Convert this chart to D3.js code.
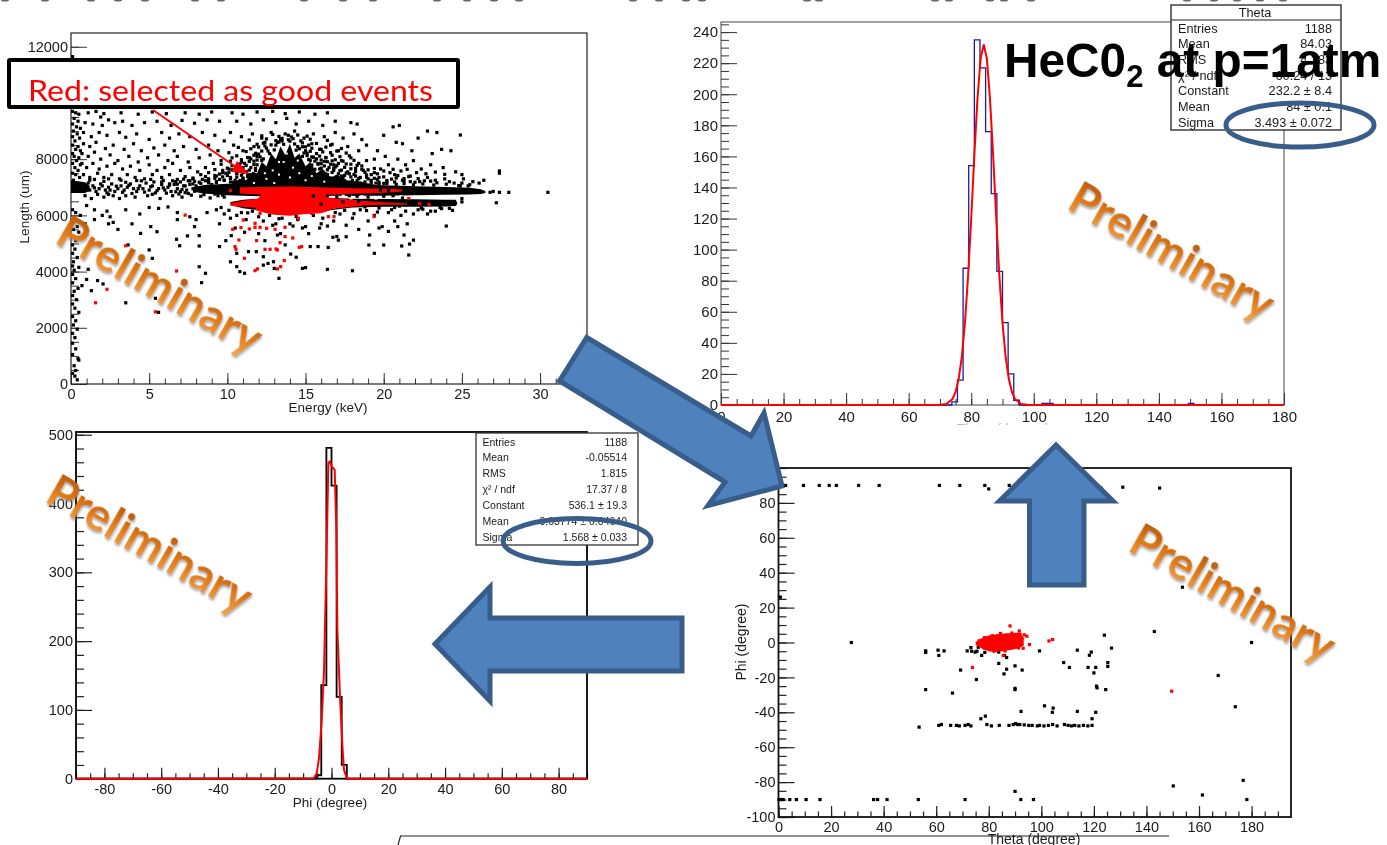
<!DOCTYPE html>
<html>
<head>
<meta charset="utf-8">
<script src="https://cdn.jsdelivr.net/npm/d3@7"></script>
<style>
    html, body { margin: 0; padding: 0; background: #fff; overflow: hidden; }
    svg { display: block; filter: blur(0.35px); }
    text { font-family: "Liberation Sans", Arial, sans-serif; fill: #1a1a1a; }
</style>
</head>
<body>
<svg id="slide" width="1387" height="845"></svg>
<script>
// ---- tick labels
const energyTicks = [0, 5, 10, 15, 20, 25, 30];
const lengthTicks = [0, 2000, 4000, 6000, 8000, 12000];
const thetaTicks = [0, 20, 40, 60, 80, 100, 120, 140, 160, 180];
const thetaCountTicks = [0, 20, 40, 60, 80, 100, 120, 140, 160, 180, 200, 220, 240];
const phiTicks = [-80, -60, -40, -20, 0, 20, 40, 60, 80];
const phiCountTicks = [0, 100, 200, 300, 400, 500];
const phiScatterTicks = [-100, -80, -60, -40, -20, 0, 20, 40, 60, 80];

// ---- Theta histogram (bin edges / entries) and fit
const thetaEdges = [0, 73.8, 75.6, 77.4, 79.2, 81, 82.8, 84.6, 86.4, 88.2, 90, 91.8, 93.6, 95.4, 102.6, 104.4, 106.2, 149.4, 151.2, 180];
const thetaCounts = [0, 2, 16, 88, 154, 235, 217, 176, 136, 86, 53, 20, 3, 0, 1, 1, 0, 1, 0, 0];
const thetaFitX = [0, 68, 70, 72, 74, 75, 76, 77, 78, 79, 80, 81, 82, 83, 84, 85, 86, 87, 88, 89, 90, 91, 92, 93, 94, 96, 98, 100, 180];
const thetaFitY = [0, 0, 0.1, 0.6, 3.8, 8.4, 17, 31, 53, 83, 120, 161, 197, 223, 232, 223, 197, 161, 120, 83, 53, 31, 17, 8.4, 3.8, 0.6, 0.1, 0, 0];

// ---- Phi histogram and fit
const phiEdges = [-90, -5.4, -3.6, -1.8, 0, 1.8, 3.6, 5.4, 90];
const phiCounts = [0, 5, 136, 481, 426, 119, 20, 0, 0];
const phiFitX = [-90, -6.2, -5.2, -4.4, -3.45, -2.63, -1.8, -1.1, -0.63, 0.3, 1.13, 1.7, 2.07, 3, 3.84, 4.4, 5.35, 6.2, 90];
const phiFitY = [0, 0.5, 8, 30, 85, 158, 313, 459, 461, 453, 449, 362, 216, 119, 47, 13, 1.5, 0, 0];

// ---- Length vs energy: dense bands (energy, upper, lower)
const cloudE = [10.2, 10.8, 11.2, 11.6, 11.9, 12.2, 12.5, 12.8, 13.1, 13.4, 13.7, 14, 14.3, 14.6, 15, 15.3, 15.7, 16.1, 16.6, 17, 17.6, 18.4, 19.4];
const cloudTop = [7100, 7300, 7250, 7550, 7500, 7900, 7750, 8200, 8000, 8450, 8150, 8550, 8050, 8200, 7750, 7900, 7500, 7650, 7350, 7450, 7250, 7200, 7100];
const cloudBottom = [6850, 6850, 6850, 6850, 6850, 6850, 6850, 6850, 6850, 6850, 6850, 6850, 6850, 6850, 6850, 6850, 6850, 6850, 6850, 6850, 6850, 6850, 6850];
const bandE = [7.8, 8.5, 10, 12, 14, 17, 20, 22, 24, 25.5, 26.2, 26.5];
const bandTop = [7000, 7080, 7130, 7150, 7150, 7120, 7070, 7040, 7010, 6980, 6930, 6870];
const bandBottom = [6840, 6780, 6720, 6680, 6680, 6700, 6700, 6720, 6730, 6740, 6760, 6800];
const band2E = [10.2, 11, 13, 16, 18, 20, 22, 24, 24.6, 24.7];
const band2Top = [6480, 6560, 6620, 6640, 6590, 6580, 6570, 6560, 6560, 6450];
const band2Bottom = [6370, 6250, 6120, 6150, 6280, 6310, 6310, 6320, 6330, 6400];
const edgeE = [0, 0.9, 1.2];
const edgeTop = [7250, 7180, 7050];
const edgeBottom = [6800, 6800, 6880];
const redUpE = [10.8, 12, 14, 16, 18, 19.5, 20.5, 21.2];
const redUpTop = [7000, 7010, 7030, 7000, 6970, 6960, 6950, 6910];
const redUpBottom = [6780, 6740, 6720, 6720, 6770, 6790, 6820, 6850];
const redLowE = [10.2, 11, 12, 14, 16, 18, 19, 20, 21.5];
const redLowTop = [6440, 6520, 6600, 6680, 6650, 6560, 6500, 6470, 6420];
const redLowBottom = [6340, 6300, 6260, 6180, 6180, 6310, 6360, 6380, 6380];
const redBlobE = [11.8, 12.5, 13, 14, 15, 16, 16.6];
const redBlobTop = [6500, 6950, 7000, 7020, 7000, 6900, 6500];
const redBlobBottom = [6180, 6080, 6020, 5990, 6050, 6080, 6180];

// ---- Length vs energy: individual events [energy, length]
const edgeEvents = [[.1,11650],[.15,11400],[.1,9700],[.3,9650],[.5,9600],[.2,9450],[.45,9350],[.1,9250],[.35,9150],[.6,9100],[.15,9000],[.4,8900],[.1,8800],[.55,8750],[.25,8650],[.1,8500],[.45,8450],[.3,8350],[.6,8300],[.1,8200],[.2,8100],[.5,8050],[.35,7950],[.1,7850],[.6,7800],[.25,7700],[.45,7600],[.1,7500],[.3,7450],[.55,7350],[.15,7250],[.1,6200],[.3,6100],[.6,6000],[.2,5900],[.1,5750],[.4,5600],[.15,5500],[.5,5400],[.1,5250],[.3,5100],[.1,4950],[.25,4800],[.1,4650],[.4,4500],[.15,4350],[.1,4200],[.5,4150],[.2,4050],[.1,3900],[.3,3750],[.1,3600],[.45,3400],[.2,3300],[.1,3150],[.35,3000],[.1,2850],[.25,2700],[.5,2550],[.1,2400],[.3,2250],[.15,2100],[.4,1950],[.1,1800],[.25,1650],[.1,1450],[.3,1250],[.1,1050],[.45,900],[.5,850],[.2,650],[.3,480],[.1,380],[.25,280],[.4,150]];
const upperLeftEvents = [[1.1,9650],[1.6,9700],[1.9,9500],[2.1,9620],[2.4,9400],[3.2,9650],[4.3,9600],[5.2,9680],[6.1,9620],[7.3,9650],[8.2,9600],[9,9680],[.9,9300],[1.4,9250],[2,9200],[2.8,9300],[3.3,9350],[3.9,9200],[4.7,9300],[5.5,9350],[6.4,9200],[7.1,9380],[7.9,9280],[8.7,9400],[9.5,9350],[.8,8950],[1.3,8800],[1.8,8950],[2.3,8850],[3.1,8950],[3.5,8780],[4.2,8900],[5,8700],[5.8,8950],[6.3,8750],[6.9,8900],[7.6,8800],[8.4,8950],[9.2,8850],[9.8,8650],[.8,8550],[1.2,8450],[1.6,8600],[2.2,8380],[2.7,8500],[3.4,8350],[4,8550],[4.5,8300],[5.3,8400],[6,8500],[6.6,8300],[7.2,8450],[8,8350],[8.8,8500],[9.4,8300],[.7,8200],[1.1,8100],[1.5,8250],[1.9,8000],[2.5,8150],[3,7950],[3.7,8100],[4.3,7900],[4.9,8050],[5.6,8150],[6.2,7950],[6.8,8100],[7.5,7900],[8.2,8050],[8.9,8150],[9.6,7950],[.7,7850],[1,7700],[1.4,7850],[1.8,7650],[2.3,7750],[2.8,7850],[3.3,7650],[3.8,7750],[4.4,7600],[5,7800],[5.5,7600],[6,7700],[6.5,7850],[7,7600],[7.6,7700],[8.1,7550],[8.6,7700],[9.1,7850],[9.7,7600],[.8,7450],[1.2,7350],[1.7,7500],[2.1,7350],[2.6,7450],[3.1,7300],[3.6,7450],[4.1,7350],[4.7,7300],[5.2,7450],[5.8,7350],[6.3,7450],[6.8,7280],[7.3,7380],[7.8,7300],[8.3,7450],[8.8,7300],[9.3,7400],[9.8,7250],[10.2,7350],[9.9,7500]];
const upperMidEvents = [[10.3,9650],[11,9600],[11.9,9680],[12.9,9700],[13.7,9620],[14.6,9680],[15.6,9600],[16.4,9650],[10.6,9350],[11.5,9250],[12.3,9400],[13.1,9300],[13.8,9450],[14.4,9250],[15.2,9350],[16.1,9200],[16.9,9350],[17.9,9300],[18.3,9250],[10.2,8950],[10.9,8800],[11.6,8900],[12.2,8750],[12.8,8950],[13.4,8700],[13.9,8850],[14.3,9000],[14.9,8750],[15.5,8900],[16.2,8800],[16.9,8950],[17.4,8750],[18.1,8900],[18.6,8700],[10.4,8500],[11,8300],[11.7,8450],[12.4,8600],[12.7,8200],[13.1,8500],[13.5,8650],[14.5,8450],[15,8300],[15.4,8550],[16,8350],[16.6,8500],[17.1,8300],[17.7,8450],[18.4,8300],[18.9,8500],[10.3,8050],[10.9,7900],[11.4,8050],[11.9,7800],[12.2,7950],[14.8,8100],[15.3,7950],[15.8,7850],[16.3,8050],[16.8,7800],[17.3,7950],[17.9,8050],[18.4,7850],[18.9,7950],[10.1,7650],[10.6,7500],[11,7700],[11.4,7450],[11.8,7600],[15.9,7650],[16.4,7450],[16.8,7600],[17.3,7400],[17.7,7550],[18.2,7400],[18.7,7600],[19.2,7450],[10.5,7250],[11,7300],[17.5,7200],[18,7250],[18.5,7150],[19,7300],[19.5,7150]];
const cloudEvents = [[12.2,8830],[12.9,8880],[13.3,8810],[13.7,8900],[14.1,8790],[14.5,8860],[15.1,8820],[11.4,8680],[12.5,8720],[13.1,8660],[13.5,8740],[13.9,8690],[14.2,8730],[14.7,8650],[15.3,8710],[16.4,8670],[11.9,8530],[12.3,8570],[12.8,8510],[13.2,8600],[14.3,8540],[14.8,8580],[15.2,8500],[15.7,8560],[16.7,8530],[10.7,8420],[11.5,8370],[12,8430],[12.5,8390],[14.6,8370],[15,8440],[15.4,8390],[15.9,8350],[16.3,8430],[17.3,8380],[10.1,8230],[11.2,8270],[11.8,8210],[12.2,8290],[14.9,8220],[15.3,8280],[15.7,8200],[16.1,8260],[16.6,8230],[17,8290],[17.6,8220],[10.6,8120],[11.3,8060],[11.7,8140],[12.1,8080],[15.1,8130],[15.5,8070],[15.9,8110],[16.3,8060],[16.7,8140],[17.2,8090],[17.8,8120],[10.2,7930],[10.9,7980],[11.4,7920],[11.9,7970],[15.2,7990],[15.6,7930],[16,7970],[16.4,7910],[16.9,7980],[17.4,7930],[18.1,7960],[9.6,7820],[10.3,7770],[10.8,7830],[11.2,7780],[11.7,7810],[15.4,7790],[15.8,7820],[16.2,7760],[16.6,7820],[17,7770],[17.6,7830],[18.3,7780],[9.2,7630],[10,7680],[10.5,7620],[10.9,7660],[11.4,7610],[11.8,7670],[15.6,7640],[16,7680],[16.4,7620],[16.8,7670],[17.3,7610],[17.9,7660],[18.6,7640],[19.4,7670],[8.8,7520],[9.5,7470],[10.1,7530],[10.6,7480],[11,7520],[11.3,7460],[16,7510],[16.3,7470],[16.7,7530],[17.1,7480],[17.6,7510],[18.1,7460],[18.8,7530],[19.6,7480],[20.4,7520],[7.8,7330],[8.6,7380],[9.2,7320],[9.7,7370],[10.2,7310],[10.6,7360],[11,7330],[11.3,7380],[16.6,7330],[17,7380],[17.4,7320],[17.9,7370],[18.4,7310],[18.9,7360],[19.4,7320],[20,7370],[20.8,7330],[21.6,7380],[7,7190],[7.5,7230],[8.2,7180],[8.8,7240],[9.3,7200],[9.8,7250],[10.2,7190],[17.5,7230],[17.9,7180],[18.3,7240],[18.8,7190],[19.2,7230],[19.7,7180],[20.2,7240],[20.7,7190],[21.3,7230],[22,7180],[23,7220],[6.3,7080],[6.8,7110],[7.3,7050],[7.8,7120],[8.3,7140],[8.8,7160],[9.3,7170],[18.2,7150],[18.7,7120],[19.2,7160],[19.7,7110],[20.2,7140],[20.8,7100],[21.3,7130],[21.9,7090],[22.5,7120],[23.2,7080],[24,7110],[24.8,7060],[25.5,7090]];
const denseExtraEvents = [[9,7100],[9.5,7280],[10,7420],[10.4,7180],[10.9,7430],[11.2,7560],[11.5,7700],[11.7,7930],[12,8180],[12.3,8010],[12.6,8290],[12.4,8470],[13,8330],[13.3,8610],[13.6,8530],[14,8640],[14.4,8320],[14.8,8440],[15.1,8210],[15.4,8080],[15.7,8010],[16,7840],[16.2,7920],[16.5,7700],[16.9,7720],[17.2,7590],[17.5,7420],[17.8,7480],[18.2,7560],[18.5,7350],[18.9,7440],[19.2,7250],[19.6,7280],[20,7140],[20.5,7290],[20.9,7420],[21.3,7310],[21.7,7200],[22.2,7310],[22.6,7230],[23.4,7160],[24.2,7200],[25,7150],[8.6,7230],[9.2,7420],[9.7,7520],[10.3,7620],[10.7,7720],[11.1,7850],[11.5,8010],[11.9,8100],[16.7,7940],[17.1,7850],[17.5,7710],[17.9,7820],[18.2,7670],[18.6,7760],[19,7620],[19.4,7520],[20,7580],[20.6,7640],[21.1,7580],[21.5,7640],[22.1,7520],[22.7,7480],[23.3,7540],[23.9,7460],[7.2,7290],[7.9,7210],[8.4,7280],[5.8,7190],[6.5,7230],[5.1,7280],[4.2,7240],[3.2,7250],[2.4,7300],[1.5,7280],[20.4,6450],[21,6330],[21.6,6480],[22.6,6440],[23.4,6460],[16.5,6750],[17.3,6740],[18.1,6760],[19.6,6780],[20.5,6800],[21.4,6780]];
const upperRightEvents = [[19.6,8300],[20,8850],[20.6,9150],[21,9200],[22.8,9000],[23.4,8950],[24.9,8860],[19.4,8000],[20.1,8100],[20.8,8600],[21.2,8550],[21.8,8300],[22.2,8750],[23.1,8200],[23.7,8350],[24.3,8300],[19.8,7650],[20.3,7800],[20.9,8000],[21.4,7800],[21.9,7950],[22.4,7650],[23,7800],[23.8,7700],[24.6,7550],[25,7450],[19.7,7350],[20.2,7200],[20.7,7450],[21.2,7250],[21.7,7400],[22.3,7200],[22.8,7350],[23.3,7250],[23.9,7300],[24.5,7150],[25.1,7300],[25.7,7200],[26.1,7150],[26.4,7250],[24.9,7050],[25.4,7050],[26.8,6820],[27,6850],[27.4,6820],[28,6820],[30.5,6820],[27.4,7500],[27.4,7580],[27.2,6450],[25,6600],[25,6480]];
const leftBandEvents = [[1,7000],[1.2,6900],[1.4,7050],[1.6,6850],[1.8,6950],[2,7050],[2.2,6900],[2.4,7000],[2.6,7120],[2.8,6850],[3,6950],[3.2,7050],[3.4,6900],[3.6,7000],[3.8,7120],[4,6950],[4.2,6850],[4.4,7050],[4.6,6950],[4.8,7150],[5,6900],[5.2,7050],[5.4,6800],[5.6,6950],[5.8,7100],[6,6900],[6.2,7000],[6.4,6850],[6.6,7100],[6.8,6950],[7,6850],[7.2,7050],[7.4,6900],[7.6,7100],[7.8,6950],[8,7050],[.9,6700],[1.3,6600],[1.7,6750],[2.1,6650],[2.7,6700],[3.1,6600],[3.5,6700],[4.1,6650],[4.9,6700],[5.7,6600],[6.5,6700],[7.1,6650],[7.7,6720],[8.3,6680],[8.9,6620],[9.4,6700],[9.8,6650],[1.1,7150],[1.5,6980],[1.9,7120],[2.3,6800],[2.5,6900],[2.9,7040],[3.3,6820],[3.7,7070],[4.3,6950],[4.7,6830],[5.1,7020],[5.5,6880],[5.9,6980],[6.3,7120],[6.7,6840],[7.1,6920],[7.5,6780],[7.9,6860],[1.2,7250],[2.1,7210],[3.5,7180],[4.5,7230],[5.3,7190],[5.9,7240],[6.7,7200],[7.6,7230],[2.4,6750],[3.9,6780],[5.2,6750],[6.1,6790],[6.9,6760],[7.3,6810],[8.5,6740],[9.2,6760],[9.7,6720]];
const belowEvents = [[1,6350],[1.5,6200],[2,6000],[2.3,6150],[2.5,5950],[2.7,5750],[3.5,6200],[4.4,6050],[5,6280],[5.6,6250],[6.2,6300],[6.8,6100],[7.6,5950],[8,5850],[8.7,6100],[9.3,6200],[9.8,6050],[.9,5700],[1.5,5850],[2.4,5700],[3,5500],[3.9,5700],[5.1,5600],[6.8,5850],[7.9,5600],[9.5,5700],[10.2,5900],[10.9,6100],[11.2,5850],[11.6,6150],[12.3,5800],[12.7,6000],[13.1,5700],[13.5,5900],[14,5700],[14.5,5850],[15,5600],[15.5,6000],[16,5700],[16.8,5800],[17.2,6050],[17.6,5650],[18,5900],[18.5,6200],[19,5800],[19.4,6000],[19.9,5600],[20.3,6100],[20.7,5800],[21.1,6000],[21.5,5700],[22.2,6200],[22.8,6050],[23.3,6150],[24,5620],[24.2,6250],[10.5,5550],[11.1,5400],[12,5350],[12.9,5650],[13.4,5350],[14.2,5620],[14.8,5550],[15.2,5350],[15.9,5550],[16.4,5620],[17,5250],[17.6,5240],[18.4,5500],[19.1,5300],[19.7,5550],[20.3,5430],[20.9,5600],[21.3,5300],[1.3,3320],[2.05,3560],[1.7,3680],[1,3720],[.7,3500],[1.1,4080],[1.8,4290],[3.5,2890],[5.6,2550],[5.4,3050],[5.2,4470],[5,4770],[3.65,4950],[4.45,5360],[5.5,5420],[6.75,5150],[6.95,4920],[7.45,5270],[8.2,5280],[8.2,4910],[9.5,4890],[9.9,5100],[10.25,5280],[8.2,4175],[8.6,3940],[8.35,3605],[10.2,4350],[10.6,4175],[10.8,4000],[11.1,3940],[10.6,4650],[11.35,4710],[11.85,4710],[12.3,4530],[12.6,4290],[12.3,4230],[12.95,4350],[13,4115],[13.3,3760],[14.05,4625],[14.4,4510],[14.8,4115],[15,4140],[15.3,4890],[15.8,4890],[16.45,4860],[16.4,4080],[18,4030],[19.4,4650],[19.05,4945],[20,4945],[21.15,4910],[21.6,4590],[21.9,5120],[21.65,4980],[17.1,5120],[16.75,5220],[12.4,5100],[13.7,4950],[13.2,5300],[9.6,6280],[10.1,6180],[10.6,6000],[11.3,6090],[12,5950],[13.3,5880],[14.4,5960],[16.1,5900],[16.9,6100],[17.5,6180],[18.1,6060],[18.9,6170],[19.6,6120],[20.5,6200],[21.4,6150],[21.9,6050],[22.5,6220],[23,6150],[23.7,6240],[24.4,6180]];
const redEvents = [[10.34,5505],[10.87,5564],[11.41,5517],[11.77,5576],[12.09,5576],[12.51,5540],[13.05,5505],[13.69,5576],[11.02,5837],[11.77,5718],[12.09,6074],[10.49,4888],[10.55,4793],[10.74,5125],[11.87,5102],[12.41,4793],[12.73,4793],[13.11,4805],[13.2,4770],[13.37,5030],[14.18,5197],[13.69,5244],[14.6,4865],[14.75,4888],[11.09,4473],[11.77,4034],[11.92,4094],[13.2,4094],[13.41,4177],[13.64,4390],[16.46,5956],[16.82,5956],[19.38,5956],[15.39,6074],[14.54,5896],[7.3,6010],[3.5,4920],[6.75,4020],[2.3,3370],[1.57,2890],[5.4,2570],[10.2,6880],[21.6,6600],[22.3,6420],[22.9,6390]];
const cloudSpeckles = [[12.5,7300],[12.9,7600],[13.3,7450],[13.6,7900],[14,7350],[14.2,7700],[14.6,7500],[15,7250],[15.4,7400],[13,7150],[11.7,7150],[16.2,7200],[13.8,8200],[13.3,7900],[14.5,7950],[12.4,7500]];
const bandSpeckles = [[12.3,6650],[13,6680],[13.9,6620],[14.6,6700],[15.4,6650],[16.2,6600],[12.6,6350],[13.4,6200],[15.2,6220],[16.8,6300],[17.4,6680],[18.6,6660],[19.5,6620],[17.9,6620],[20.3,6640],[21.1,6660],[22,6650],[23,6640],[24,6660]];
const bandDarks = [[15.5,6690],[16.4,6700],[17,6650],[17.8,6700],[18.3,6680],[19,6650],[20,6680],[20.6,6700],[21.2,6620],[16,6400],[17.4,6480],[18.8,6300],[19.7,6260],[20.7,6280],[22.4,6260],[23.6,6280],[19.8,6900],[20.3,6880],[18.4,6490]];

// ---- Phi vs theta: events [theta, phi]
const scatterBlack = [[2.7,90],[9.5,90],[15.5,90],[19.3,90],[22,90],[30.5,90],[38.3,90],[61.2,90],[69,90],[78.5,90],[80,88],[87.8,90],[122.7,88.5],[131,89],[145,88.5],[.7,26],[27.7,0],[153.7,31.7],[143,6.3],[124,4.2],[180,0],[126.7,-3.2],[113.7,-4.4],[119,-5.5],[118.3,-7.3],[99.3,-4.8],[56,-4.8],[56,-5.7],[60.7,-4.4],[61,-7.4],[63,-4.8],[71.8,-4.8],[73.2,-2.9],[73.5,-5],[74.8,-5.5],[75.5,-5],[76,-2.7],[77.3,-7.4],[78.5,-5.7],[83.8,-5.5],[86,-7.4],[86.8,-8.6],[83.8,-12],[90,-13.4],[86.8,-15.3],[85.8,-18],[92.7,-15.8],[69.3,-15.8],[75.3,-21.2],[108.5,-11.5],[110.7,-14.3],[117.8,-14.3],[120.7,-14.3],[120,-17.4],[125.3,-11.5],[125.3,-13.7],[121,-25],[121.2,-26],[124.5,-27],[90,-26.3],[90,-27],[56,-27],[66.2,-29],[167.3,-18.9],[173.8,-36.8],[101.2,-36.3],[104.5,-37.6],[104.2,-40],[92.3,-39.5],[113.7,-39.5],[120.7,-40],[119.3,-43.7],[78.7,-42.2],[77,-43.7],[53.5,-48.5],[61,-47.5],[62,-47],[65.5,-47.5],[67.7,-47.5],[68.8,-47.8],[71,-47.5],[72.2,-47],[73.2,-47.8],[79.3,-47],[81,-47.8],[84,-47.5],[87.7,-47.5],[89.3,-47],[90.2,-46.5],[91,-47],[91.8,-47],[93.5,-47.2],[95.2,-47.5],[96.5,-47.5],[98.5,-47.8],[99.3,-47.5],[101,-47.8],[102.7,-47.5],[104.3,-47],[106,-47.8],[108.8,-47],[110.2,-47.5],[111.5,-47.8],[112.7,-47.5],[114.3,-47.8],[116,-47.5],[117.7,-47.8],[119.3,-47.5],[.2,-90],[1,-90],[1.8,-90],[4.3,-90],[6.8,-90],[10.5,-90],[15.8,-90],[36.2,-90],[37.7,-90],[41.3,-90],[53.2,-90],[71,-90],[92.2,-90],[97,-90],[178.2,-90],[90,-85.3],[150.2,-82.2],[161.3,-87.4],[176.8,-79]];
const scatterRed = [[88.1,9.5],[91.6,6.6],[93.5,4.4],[94.5,3.6],[95.5,-1.2],[93.1,-3.3],[91.3,-3.1],[102.9,.9],[104.3,1.7],[85.5,-7.5],[73.8,-14.3],[149.6,-27.9],[76.4,1],[78.4,2.8],[81.3,3.9],[84.5,5.2],[88.8,5.4],[86.2,-4.8],[82,-5],[78.6,-3.2],[91.9,4.6]];
const blobTheta = [75.1, 77.9, 80.4, 83, 86.8, 89.3, 91.8, 93.3];
const blobTop = [-0.2, 2.3, 3.6, 4.2, 4.8, 4.9, 5.1, 1.7];
const blobBottom = [-0.6, -3.4, -4.6, -4.8, -4, -3.4, -2.5, -1];

// ---- annotation text
const thetaStatNames = ["Entries", "Mean", "RMS", "χ² / ndf", "Constant", "Mean", "Sigma"];
const thetaStatValues = ["1188", "84.03", "4.283", "60.24 / 13", "232.2 ± 8.4", "84 ± 0.1", "3.493 ± 0.072"];
const phiStatNames = ["Entries", "Mean", "RMS", "χ² / ndf", "Constant", "Mean", "Sigma"];
const phiStatValues = ["1188", "-0.05514", "1.815", "17.37 / 8", "536.1 ± 19.3", "-0.03774 ± 0.04640", "1.568 ± 0.033"];
const clippedTitleX = [5, 45, 91, 118, 145, 195, 221, 304, 343, 373, 437, 467, 494, 519, 633, 659, 686, 702, 807, 819, 935, 949, 990, 1004, 1031, 1187, 1214, 1237, 1260, 1283];

const svg = d3.select("#slide");

const defs = svg.append("defs");
const grad = defs.append("linearGradient").attr("id", "orange").attr("x1", 0).attr("y1", 0).attr("x2", 0).attr("y2", 1);
grad.append("stop").attr("offset", "15%").attr("stop-color", "#B9590A");
grad.append("stop").attr("offset", "55%").attr("stop-color", "#E07A14");
grad.append("stop").attr("offset", "90%").attr("stop-color", "#F0A04A");
const shadow = defs.append("filter").attr("id", "shade").attr("x", "-10%").attr("y", "-20%").attr("width", "120%").attr("height", "140%");
shadow.append("feDropShadow").attr("dx", 1.5).attr("dy", 2).attr("stdDeviation", 1).attr("flood-color", "#777").attr("flood-opacity", 0.6);

// frame with ROOT style inward ticks
const drawFrame = (c) => {
    const x = d3.scaleLinear().domain(c.xDomain).range([c.left, c.right]);
    const y = d3.scaleLinear().domain(c.yDomain).range([c.bottom, c.top]);
    const g = svg.append("g");

    const axisStyle = (sel) => {
        sel.select(".domain").remove();
        sel.selectAll("line").attr("stroke", c.tickColor).attr("stroke-width", c.tickWidth);
        sel.selectAll("text").attr("font-size", c.fontSize).attr("fill", "#1a1a1a").attr("font-family", "Liberation Sans");
    };

    g.append("g").attr("transform", `translate(0,${c.bottom})`)
        .call(d3.axisBottom(x).tickValues(c.xMinor).tickFormat("").tickSize(-c.xLen / 2)).call(axisStyle);
    g.append("g").attr("transform", `translate(0,${c.bottom})`)
        .call(d3.axisBottom(x).tickValues(c.xTicks).tickFormat(String).tickSize(-c.xLen).tickPadding(c.xPad)).call(axisStyle);
    g.append("g").attr("transform", `translate(${c.left},0)`)
        .call(d3.axisLeft(y).tickValues(c.yMinor).tickFormat("").tickSize(-c.yLen / 2)).call(axisStyle);
    g.append("g").attr("transform", `translate(${c.left},0)`)
        .call(d3.axisLeft(y).tickValues(c.yTicks).tickFormat(String).tickSize(-c.yLen).tickPadding(3)).call(axisStyle);

    g.append("rect").attr("x", c.left).attr("y", c.top).attr("width", c.right - c.left).attr("height", c.bottom - c.top)
        .attr("fill", "none").attr("stroke", c.frameColor).attr("stroke-width", c.frameWidth);

    if (c.xTitle) g.append("text").attr("x", c.xTitle[1]).attr("y", c.xTitle[2]).attr("text-anchor", "middle")
        .attr("font-size", c.titleSize).text(c.xTitle[0]);
    if (c.yTitle) g.append("text").attr("transform", `translate(${c.yTitle[1]},${c.yTitle[2]}) rotate(-90)`).attr("text-anchor", "middle")
        .attr("font-size", c.titleSize).text(c.yTitle[0]);
    return { x, y, g };
};

const drawPoints = (g, x, y, pts, color, size = 3.2) => {
    g.selectAll(null).data(pts).enter().append("rect")
        .attr("x", d => x(d[0]) - size / 2).attr("y", d => y(d[1]) - size / 2)
        .attr("width", size).attr("height", size).attr("fill", color);
};

const drawBand = (g, x, y, xs, tops, bottoms, color) => {
    const area = d3.area().x(i => x(xs[i])).y0(i => y(bottoms[i])).y1(i => y(tops[i]));
    g.append("path").attr("d", area(d3.range(xs.length))).attr("fill", color);
};

const drawStep = (g, x, y, xs, ys, color, width) => {
    const line = d3.line().curve(d3.curveStepAfter).x(i => x(xs[i])).y(i => y(ys[i]));
    g.append("path").attr("d", line(d3.range(xs.length))).attr("fill", "none").attr("stroke", color).attr("stroke-width", width);
};

const drawFit = (g, x, y, xs, ys) => {
    const line = d3.line().x(i => x(xs[i])).y(i => y(ys[i]));
    g.append("path").attr("d", line(d3.range(xs.length))).attr("fill", "none").attr("stroke", "#f00").attr("stroke-width", 2);
};

const drawStats = (box, names, values) => {
    const g = svg.append("g");
    g.append("rect").attr("x", box.x).attr("y", box.y).attr("width", box.w).attr("height", box.h)
        .attr("fill", "#fff").attr("stroke", box.stroke).attr("stroke-width", 1.3);
    names.forEach((name, i) => {
        g.append("text").attr("x", box.x + box.pad).attr("y", box.first + i * box.step).attr("font-size", box.size).text(name);
        g.append("text").attr("x", box.right).attr("y", box.first + i * box.step).attr("text-anchor", "end").attr("font-size", box.size).text(values[i]);
    });
    return g;
};

// ---- Length vs energy
const a = drawFrame({
    xDomain: [0, 33], yDomain: [0, 12490], left: 71, right: 587, top: 33, bottom: 384,
    xTicks: energyTicks, xMinor: d3.range(0, 33), xLen: 11, xPad: 5,
    yTicks: lengthTicks, yMinor: d3.range(0, 12500, 500), yLen: 16,
    tickColor: "#333", tickWidth: 1, frameColor: "#222", frameWidth: 1.2, fontSize: 14.5, titleSize: 13.5,
    xTitle: ["Energy (keV)", 328, 412], yTitle: ["Length (um)", 29, 207]
});
[edgeEvents, upperLeftEvents, upperMidEvents, cloudEvents, denseExtraEvents, upperRightEvents, leftBandEvents, belowEvents].forEach(pts => drawPoints(a.g, a.x, a.y, pts, "#000"));
drawBand(a.g, a.x, a.y, edgeE, edgeTop, edgeBottom, "#000");
drawBand(a.g, a.x, a.y, cloudE, cloudTop, cloudBottom, "#000");
drawBand(a.g, a.x, a.y, bandE, bandTop, bandBottom, "#000");
drawBand(a.g, a.x, a.y, band2E, band2Top, band2Bottom, "#000");
drawPoints(a.g, a.x, a.y, cloudSpeckles, "#fff", 2);
drawPoints(a.g, a.x, a.y, bandSpeckles, "#fff");
drawBand(a.g, a.x, a.y, redUpE, redUpTop, redUpBottom, "#f00");
drawBand(a.g, a.x, a.y, redLowE, redLowTop, redLowBottom, "#f00");
drawBand(a.g, a.x, a.y, redBlobE, redBlobTop, redBlobBottom, "#f00");
drawPoints(a.g, a.x, a.y, bandDarks, "#000");
drawPoints(a.g, a.x, a.y, redEvents, "#f00");

// ---- Theta histogram
const b = drawFrame({
    xDomain: [0, 180], yDomain: [0, 246.5], left: 721, right: 1284, top: 22, bottom: 405,
    xTicks: thetaTicks, xMinor: d3.range(0, 181, 5), xLen: 12, xPad: 6,
    yTicks: thetaCountTicks, yMinor: d3.range(0, 246, 5), yLen: 16,
    tickColor: "#333", tickWidth: 1, frameColor: "#444", frameWidth: 1, fontSize: 15, titleSize: 14
});
drawStep(b.g, b.x, b.y, thetaEdges, thetaCounts, "#1c1c9e", 1.3);
drawFit(b.g, b.x, b.y, thetaFitX, thetaFitY);
// leftover of the x title that is cut off in the slide
b.g.append("text").attr("x", 1003).attr("y", 434).attr("text-anchor", "middle").attr("font-size", 14).style("fill", "#bbb").text("Theta (degree)");
b.g.append("rect").attr("x", 940).attr("y", 425).attr("width", 130).attr("height", 14).attr("fill", "#fff");

// ---- Phi histogram
const c = drawFrame({
    xDomain: [-90, 90], yDomain: [0, 504], left: 76, right: 587, top: 432, bottom: 778.7,
    xTicks: phiTicks, xMinor: d3.range(-90, 91, 5), xLen: 11, xPad: 5,
    yTicks: phiCountTicks, yMinor: d3.range(0, 501, 20), yLen: 16,
    tickColor: "#222", tickWidth: 1.2, frameColor: "#000", frameWidth: 1.8, fontSize: 14.5, titleSize: 13.5,
    xTitle: ["Phi (degree)", 330, 807]
});
drawStep(c.g, c.x, c.y, phiEdges, phiCounts, "#000", 1.8);
drawFit(c.g, c.x, c.y, phiFitX, phiFitY);

// ---- Phi vs Theta
const d = drawFrame({
    xDomain: [0, 195], yDomain: [-100, 100], left: 778.5, right: 1291, top: 468, bottom: 817,
    xTicks: thetaTicks, xMinor: d3.range(0, 195, 5), xLen: 11, xPad: 5,
    yTicks: phiScatterTicks, yMinor: d3.range(-100, 101, 5), yLen: 16,
    tickColor: "#222", tickWidth: 1.2, frameColor: "#111", frameWidth: 1.8, fontSize: 14.5, titleSize: 14,
    xTitle: ["Theta (degree)", 1034, 844], yTitle: ["Phi (degree)", 746, 642]
});
drawPoints(d.g, d.x, d.y, scatterBlack, "#000");
drawBand(d.g, d.x, d.y, blobTheta, blobTop, blobBottom, "#f00");
d.g.append("path").attr("d", d3.line().x(i => d.x(blobTheta[i])).y(i => d.y(blobTop[i])).curve(d3.curveLinear)(d3.range(blobTheta.length)))
    .attr("fill", "none").attr("stroke", "#f00").attr("stroke-width", 2);
d.g.append("path").attr("d", d3.line().x(i => d.x(blobTheta[i])).y(i => d.y(blobBottom[i]))(d3.range(blobTheta.length)))
    .attr("fill", "none").attr("stroke", "#f00").attr("stroke-width", 2);
drawPoints(d.g, d.x, d.y, scatterRed, "#f00");

// ---- stat boxes
const thetaBox = drawStats({ x: 1171, y: 5, w: 170, h: 125, pad: 7, right: 1332, first: 32.5, step: 15.7, size: 12.7, stroke: "#222" }, thetaStatNames, thetaStatValues);
thetaBox.append("line").attr("x1", 1171).attr("x2", 1341).attr("y1", 20).attr("y2", 20).attr("stroke", "#222").attr("stroke-width", 1.2);
thetaBox.append("text").attr("x", 1255).attr("y", 16.5).attr("text-anchor", "middle").attr("font-size", 12.7).text("Theta");
drawStats({ x: 476, y: 433, w: 162, h: 112, pad: 6.5, right: 627, first: 445.5, step: 15.9, size: 10.5, stroke: "#333" }, phiStatNames, phiStatValues);

// ---- slide annotations
svg.selectAll(null).data(clippedTitleX).enter().append("ellipse")
    .attr("cx", d => d).attr("cy", 0).attr("rx", 4).attr("ry", 1.5).attr("fill", "#666");

svg.append("rect").attr("x", 9).attr("y", 60).attr("width", 449).attr("height", 47).attr("rx", 1)
    .attr("fill", "#fff").attr("stroke", "#000").attr("stroke-width", 4);
svg.append("text").attr("x", 28).attr("y", 101).attr("font-size", 29).attr("textLength", 405).attr("lengthAdjust", "spacingAndGlyphs")
    .style("font-family", "Lato").style("fill", "#f00").text("Red: selected as good events");
svg.append("line").attr("x1", 153).attr("y1", 110).attr("x2", 236).attr("y2", 167).attr("stroke", "#f00").attr("stroke-width", 2);
svg.append("path").attr("d", d3.line()([[237, 161], [231.5, 172], [249, 174]])).attr("fill", "#f00");

const heco = svg.append("text").attr("x", 1004).attr("y", 77).attr("font-size", 47.8).attr("font-weight", "bold").style("fill", "#000");
heco.append("tspan").text("HeC0");
heco.append("tspan").attr("font-size", 31).attr("dy", 10).text("2");
heco.append("tspan").attr("dy", -10).text(" at p=1atm");

// Preliminary stamps, one per panel
const stampX = [160, 1172, 150, 1233];
const stampY = [285, 251, 544, 593];
stampX.forEach((sx, i) => {
    svg.append("text").attr("transform", `translate(${sx},${stampY[i]}) rotate(30)`).attr("text-anchor", "middle").attr("dy", "0.35em")
        .attr("font-size", 45).attr("font-weight", 700).style("font-family", "Lato").style("fill", "url(#orange)").attr("filter", "url(#shade)").text("Preliminary");
});

// block arrows and ellipses
const arrowBlue = "#4F81BD", arrowEdge = "#385D8A";
const blockArrows = [
    [[586.7, 337.5], [559.5, 381], [725, 482], [708, 505.5], [782, 486], [764, 413], [751, 436]],
    [[1056, 445], [999.5, 501], [1029.5, 501], [1029.5, 585], [1084, 585], [1084, 501], [1113, 501]],
    [[435, 644], [490, 587], [490, 618], [682, 618], [682, 671], [490, 671], [490, 701]]
];
blockArrows.forEach(pts => {
    svg.append("path").attr("d", d3.line()(pts) + "Z").attr("fill", arrowBlue).attr("stroke", arrowEdge).attr("stroke-width", 5).attr("stroke-linejoin", "miter");
});
svg.append("ellipse").attr("cx", 1300).attr("cy", 125).attr("rx", 74).attr("ry", 22).attr("fill", "none").attr("stroke", arrowEdge).attr("stroke-width", 5);
svg.append("ellipse").attr("cx", 577).attr("cy", 541).attr("rx", 74).attr("ry", 22.5).attr("fill", "none").attr("stroke", arrowEdge).attr("stroke-width", 5);

// start of the table that runs off the bottom of the slide
svg.append("path").attr("d", "M398,845L400.5,836H1169").attr("fill", "none").attr("stroke", "#222").attr("stroke-width", 1.2);
</script>
</body>
</html>
